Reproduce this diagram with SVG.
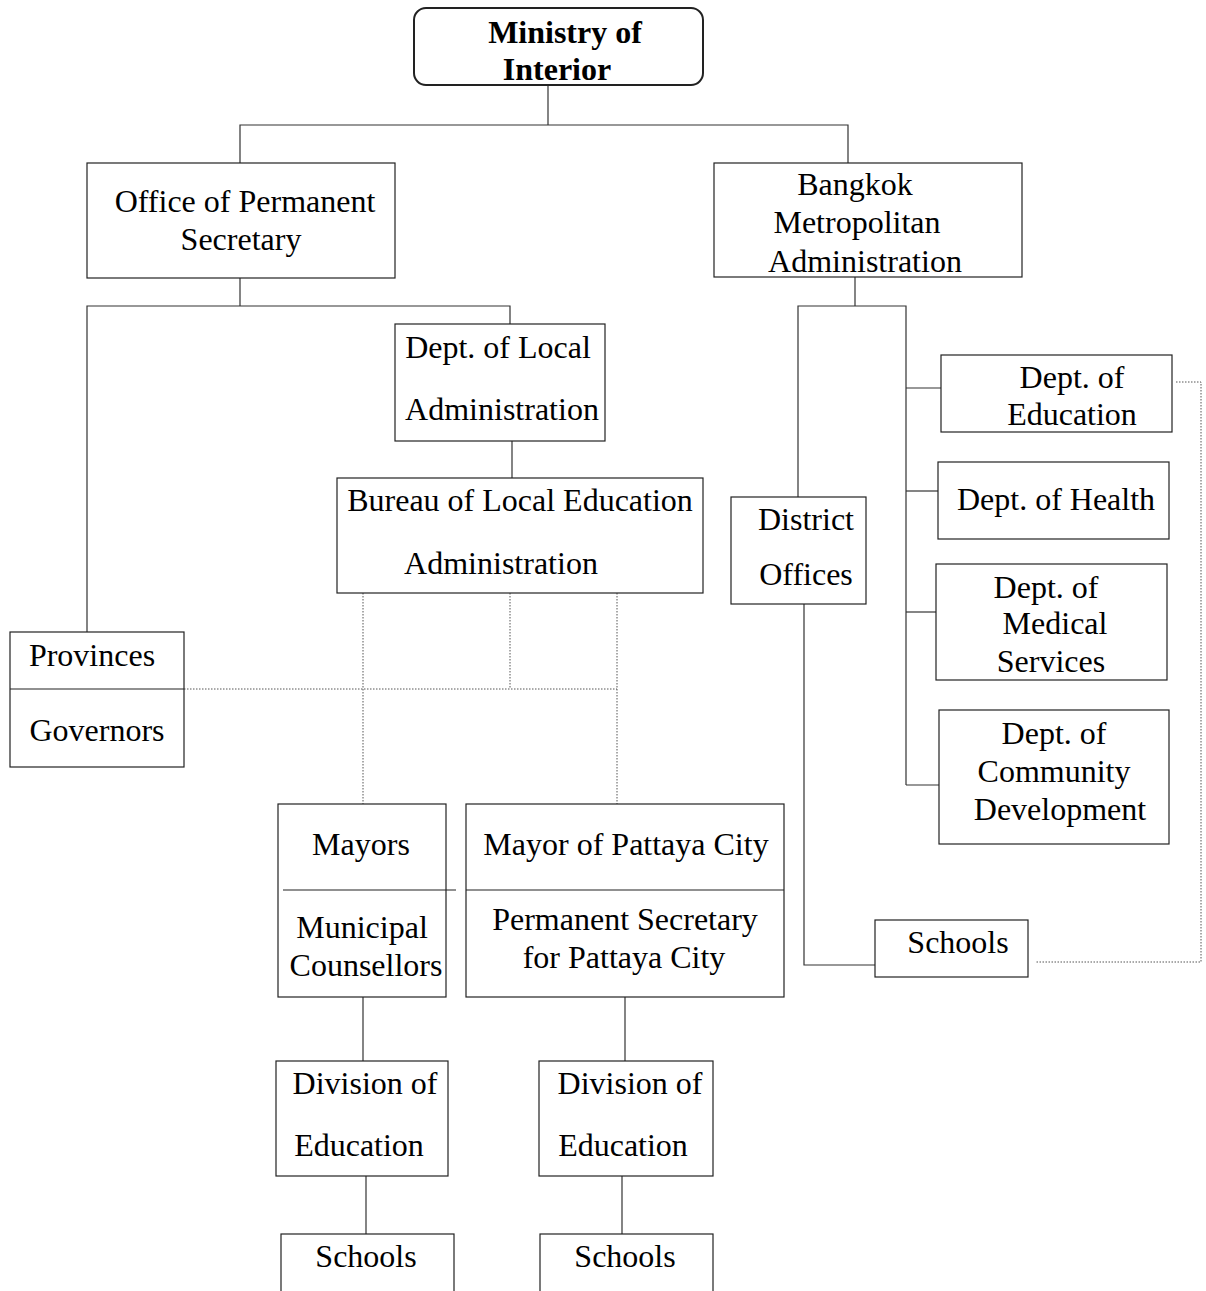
<svg xmlns="http://www.w3.org/2000/svg" width="1206" height="1291" viewBox="0 0 1206 1291">
<style>
.n rect{fill:#fff;stroke:#222;stroke-width:1.2}
.n line{stroke:#222;stroke-width:1.2}
.c line,.c polyline{stroke:#333;stroke-width:1.2;fill:none}
.c .d{stroke:#555;stroke-dasharray:1.5 1.5;stroke-width:1}
text{font-family:"Liberation Serif","Times New Roman",serif;font-size:32px;fill:#000;text-anchor:middle}
.b{font-weight:bold;font-size:32px}
</style>
<g class="c" id="connectors">
<line x1="548" y1="85" x2="548" y2="125"/>
<polyline points="240,163 240,125 848,125 848,163"/>
<line x1="240" y1="278" x2="240" y2="306"/>
<polyline points="87,632 87,306 510,306 510,324"/>
<line x1="512" y1="441" x2="512" y2="478"/>
<line class="d" x1="363" y1="593" x2="363" y2="804"/>
<line class="d" x1="510" y1="593" x2="510" y2="689"/>
<line class="d" x1="617" y1="593" x2="617" y2="804"/>
<line class="d" x1="184" y1="689" x2="617" y2="689"/>
<line x1="363" y1="997" x2="363" y2="1061"/>
<line x1="625" y1="997" x2="625" y2="1061"/>
<line x1="366" y1="1176" x2="366" y2="1234"/>
<line x1="622" y1="1176" x2="622" y2="1234"/>
<line x1="855" y1="277" x2="855" y2="306"/>
<polyline points="798,497 798,306 906,306 906,785"/>
<line x1="906" y1="388" x2="941" y2="388"/>
<line x1="906" y1="491" x2="938" y2="491"/>
<line x1="906" y1="612" x2="936" y2="612"/>
<line x1="906" y1="785" x2="939" y2="785"/>
<polyline points="804,604 804,965 875,965"/>
<polyline class="d" points="1176,382 1201,382 1201,962 1035,962"/>
</g>
<g class="n">
<g id="ministry">
<rect x="414" y="8" width="289" height="77" rx="12" style="stroke-width:2"/>
<text class="b" x="565" y="43">Ministry of</text>
<text class="b" x="557" y="80">Interior</text>
</g>
<g id="office">
<rect x="87" y="163" width="308" height="115"/>
<text x="245" y="212">Office of Permanent</text>
<text x="241" y="250">Secretary</text>
</g>
<g id="bangkok">
<rect x="714" y="163" width="308" height="114"/>
<text x="855" y="195">Bangkok</text>
<text x="857" y="233">Metropolitan</text>
<text x="865" y="272">Administration</text>
</g>
<g id="dept-local">
<rect x="395" y="324" width="210" height="117"/>
<text x="498" y="358">Dept. of Local</text>
<text x="502" y="420">Administration</text>
</g>
<g id="bureau">
<rect x="337" y="478" width="366" height="115"/>
<text x="520" y="511">Bureau of Local Education</text>
<text x="501" y="574">Administration</text>
</g>
<g id="provinces">
<rect x="10" y="632" width="174" height="135"/>
<line x1="10" y1="689" x2="184" y2="689"/>
<text x="92" y="666">Provinces</text>
<text x="97" y="741">Governors</text>
</g>
<g id="mayors">
<rect x="278" y="804" width="168" height="193"/>
<line x1="283" y1="890" x2="456" y2="890"/>
<text x="361" y="855">Mayors</text>
<text x="362" y="938">Municipal</text>
<text x="366" y="976">Counsellors</text>
</g>
<g id="pattaya">
<rect x="466" y="804" width="318" height="193"/>
<line x1="466" y1="890" x2="784" y2="890"/>
<text x="626" y="855">Mayor of Pattaya City</text>
<text x="625" y="930">Permanent Secretary</text>
<text x="624" y="968">for Pattaya City</text>
</g>
<g id="division-left">
<rect x="276" y="1061" width="172" height="115"/>
<text x="365" y="1094">Division of</text>
<text x="359" y="1156">Education</text>
</g>
<g id="division-right">
<rect x="539" y="1061" width="174" height="115"/>
<text x="630" y="1094">Division of</text>
<text x="623" y="1156">Education</text>
</g>
<g id="schools-left">
<rect x="281" y="1234" width="173" height="70"/>
<text x="366" y="1267">Schools</text>
</g>
<g id="schools-mid">
<rect x="540" y="1234" width="173" height="70"/>
<text x="625" y="1267">Schools</text>
</g>
<g id="dept-education">
<rect x="941" y="355" width="231" height="77"/>
<text x="1072" y="388">Dept. of</text>
<text x="1072" y="425">Education</text>
</g>
<g id="dept-health">
<rect x="938" y="462" width="231" height="77"/>
<text x="1056" y="510">Dept. of Health</text>
</g>
<g id="dept-medical">
<rect x="936" y="564" width="231" height="116"/>
<text x="1046" y="598">Dept. of</text>
<text x="1055" y="634">Medical</text>
<text x="1051" y="672">Services</text>
</g>
<g id="dept-community">
<rect x="939" y="710" width="230" height="134"/>
<text x="1054" y="744">Dept. of</text>
<text x="1054" y="782">Community</text>
<text x="1060" y="820">Development</text>
</g>
<g id="district">
<rect x="731" y="497" width="135" height="107"/>
<text x="806" y="530">District</text>
<text x="806" y="585">Offices</text>
</g>
<g id="schools-right">
<rect x="875" y="920" width="153" height="57"/>
<text x="958" y="953">Schools</text>
</g>
</g>
</svg>
